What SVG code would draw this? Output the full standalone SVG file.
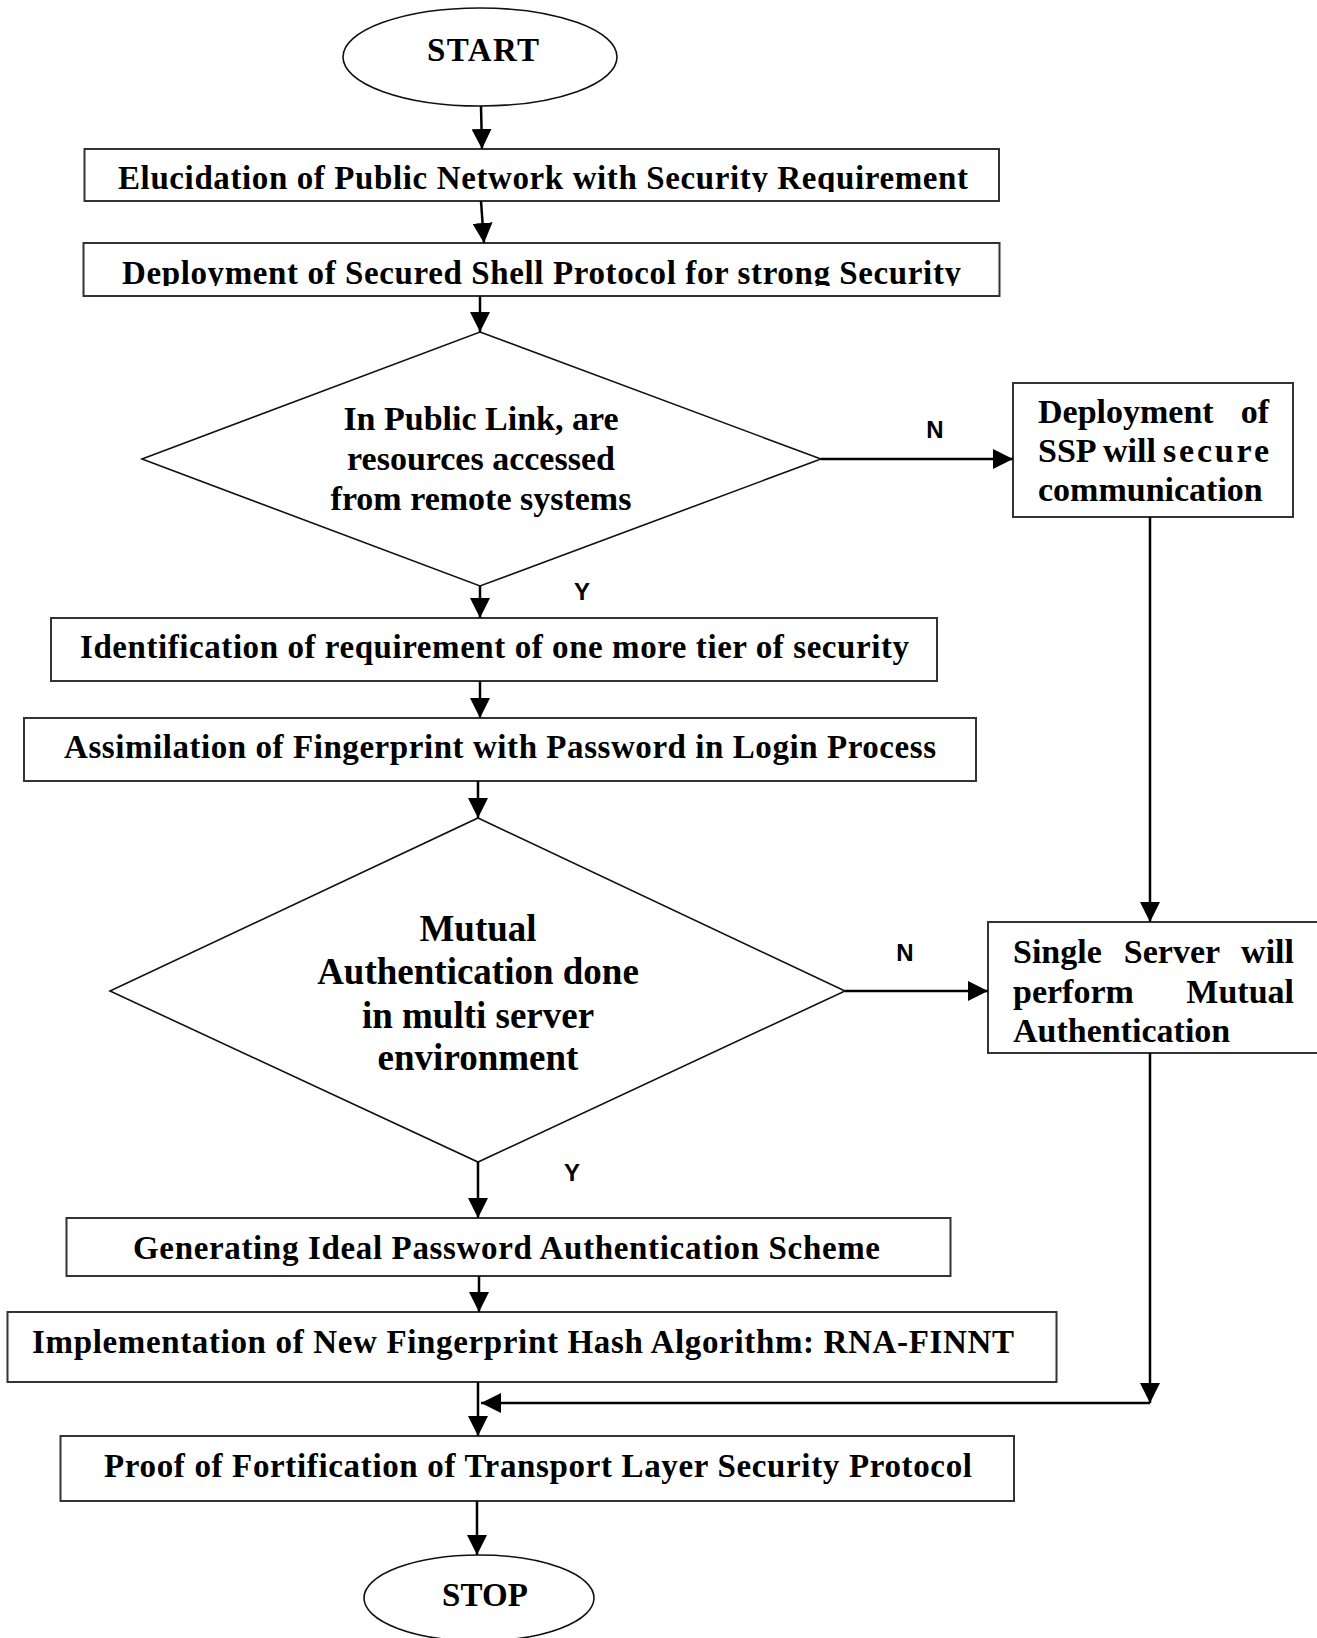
<svg xmlns="http://www.w3.org/2000/svg" width="1317" height="1638" viewBox="0 0 1317 1638">
<style>
.bx{fill:#fff;stroke:#333;stroke-width:2}
.sh{fill:#fff;stroke:#111;stroke-width:1.6}
.t{font-family:"Liberation Serif","Times New Roman",serif;font-weight:bold;font-size:33px;fill:#000}
.r{font-size:34px}
.d1{font-size:34px;text-anchor:middle}
.d2{font-size:37px;text-anchor:middle}
.tc{text-anchor:middle}
.te{text-anchor:end}
.lb{font-family:"Liberation Sans",Arial,sans-serif;font-weight:bold;font-size:24px;fill:#000;text-anchor:middle}
.cn{fill:none;stroke:#000;stroke-width:2.5}
</style>
<defs>
<marker id="ah" markerUnits="userSpaceOnUse" markerWidth="20" markerHeight="20" viewBox="0 0 18 18" refX="18" refY="9" orient="auto">
<path d="M0,0 L18,9 L0,18 Z" fill="#000"/>
</marker>
<clipPath id="c1"><rect x="84" y="149" width="916" height="43"/></clipPath>
<clipPath id="c2"><rect x="83" y="243" width="917" height="43"/></clipPath>
</defs>

<g id="start">
<ellipse class="sh" cx="480" cy="57" rx="137" ry="49"/>
<text class="t tc" x="483" y="61" textLength="112">START</text>
</g>

<g id="box1">
<rect class="bx" x="84.5" y="149" width="914.5" height="52"/>
<text class="t" x="118" y="189" textLength="850" clip-path="url(#c1)">Elucidation of Public Network with Security Requirement</text>
</g>

<g id="box2">
<rect class="bx" x="83.5" y="243" width="916" height="53"/>
<text class="t" x="122" y="284" textLength="839" clip-path="url(#c2)">Deployment of Secured Shell Protocol for strong Security</text>
</g>

<g id="decision1">
<polygon class="sh" points="480,332 821,459 480,586 142,459"/>
<text class="t d1" x="481" y="430">In Public Link, are</text>
<text class="t d1" x="481" y="470">resources accessed</text>
<text class="t d1" x="481" y="510">from remote systems</text>
</g>

<g id="ssp">
<rect class="bx" x="1013" y="383" width="280" height="134"/>
<text class="t r" x="1038" y="423">Deployment</text>
<text class="t r te" x="1269" y="423">of</text>
<text class="t r" x="1038" y="462">SSP</text>
<text class="t r" x="1103" y="462">will</text>
<text class="t r" x="1163" y="462" textLength="106">secure</text>
<text class="t r" x="1038" y="501">communication</text>
</g>

<g id="box3">
<rect class="bx" x="51" y="618" width="886" height="63"/>
<text class="t" x="80" y="658" textLength="829">Identification of requirement of one more tier of security</text>
</g>

<g id="box4">
<rect class="bx" x="24" y="718" width="952" height="63"/>
<text class="t" x="64" y="758" textLength="872">Assimilation of Fingerprint with Password in Login Process</text>
</g>

<g id="decision2">
<polygon class="sh" points="478,818 845,991 478,1162 110,991"/>
<text class="t d2" x="478" y="941">Mutual</text>
<text class="t d2" x="478" y="984">Authentication done</text>
<text class="t d2" x="478" y="1028">in multi server</text>
<text class="t d2" x="478" y="1070">environment</text>
</g>

<g id="single">
<rect class="bx" x="988" y="922" width="345" height="131"/>
<text class="t r" x="1013" y="963">Single</text>
<text class="t r tc" x="1172" y="963">Server</text>
<text class="t r te" x="1294" y="963">will</text>
<text class="t r" x="1013" y="1003">perform</text>
<text class="t r te" x="1294" y="1003">Mutual</text>
<text class="t r" x="1013" y="1042">Authentication</text>
</g>

<g id="box5">
<rect class="bx" x="66.5" y="1218" width="884" height="58"/>
<text class="t" x="133" y="1259" textLength="747">Generating Ideal Password Authentication Scheme</text>
</g>

<g id="box6">
<rect class="bx" x="7.5" y="1312" width="1049" height="70"/>
<text class="t" x="32" y="1353" textLength="982">Implementation of New Fingerprint Hash Algorithm: RNA-FINNT</text>
</g>

<g id="box7">
<rect class="bx" x="60.5" y="1436" width="953.5" height="65"/>
<text class="t" x="104" y="1477" textLength="868">Proof of Fortification of Transport Layer Security Protocol</text>
</g>

<g id="stop">
<ellipse class="sh" cx="479" cy="1598" rx="115" ry="43"/>
<text class="t tc" x="485" y="1606" textLength="86">STOP</text>
</g>

<g id="connectors">
<line class="cn" x1="481" y1="106" x2="482" y2="149" marker-end="url(#ah)"/>
<line class="cn" x1="481" y1="201" x2="484" y2="243" marker-end="url(#ah)"/>
<line class="cn" x1="480" y1="296" x2="480" y2="332" marker-end="url(#ah)"/>
<line class="cn" x1="480" y1="586" x2="480" y2="618" marker-end="url(#ah)"/>
<line class="cn" x1="821" y1="459" x2="1013" y2="459" marker-end="url(#ah)"/>
<line class="cn" x1="1150" y1="517" x2="1150" y2="922" marker-end="url(#ah)"/>
<line class="cn" x1="480" y1="681" x2="480" y2="718" marker-end="url(#ah)"/>
<line class="cn" x1="478" y1="781" x2="478" y2="818" marker-end="url(#ah)"/>
<line class="cn" x1="845" y1="991" x2="988" y2="991" marker-end="url(#ah)"/>
<line class="cn" x1="478" y1="1162" x2="478" y2="1218" marker-end="url(#ah)"/>
<line class="cn" x1="479" y1="1276" x2="479" y2="1312" marker-end="url(#ah)"/>
<line class="cn" x1="478" y1="1382" x2="478" y2="1436" marker-end="url(#ah)"/>
<line class="cn" x1="1150" y1="1053" x2="1150" y2="1403" marker-end="url(#ah)"/>
<line class="cn" x1="1150" y1="1403" x2="481" y2="1403" marker-end="url(#ah)"/>
<line class="cn" x1="477" y1="1501" x2="477" y2="1555" marker-end="url(#ah)"/>
<text class="lb" x="935" y="438">N</text>
<text class="lb" x="582" y="600">Y</text>
<text class="lb" x="905" y="961">N</text>
<text class="lb" x="572" y="1181">Y</text>
</g>
</svg>
